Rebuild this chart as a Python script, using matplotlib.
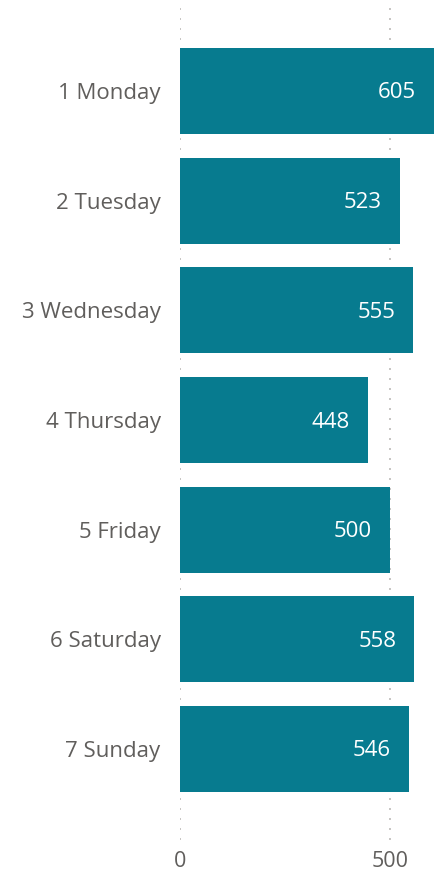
import matplotlib
matplotlib.use("Agg")
import matplotlib.pyplot as plt

categories = ["1 Monday", "2 Tuesday", "3 Wednesday", "4 Thursday", "5 Friday", "6 Saturday", "7 Sunday"]
values = [605, 523, 555, 448, 500, 558, 546]
xticks = [0, 500]
xticklabels = ["0", "500"]

plt.rcParams['font.family'] = ['Open Sans', 'DejaVu Sans']

W, H = 447, 871
fig = plt.figure(figsize=(W / 100, H / 100), dpi=100)
top_px, bot_px = 3, 840
ax = fig.add_axes([180 / W, (H - bot_px) / H, (434 - 180) / W, (bot_px - top_px) / H])

bar_color = "#077B8F"
text_color = "#605E5C"

n = len(categories)
y = list(range(n))
ax.barh(y, values, height=0.784, color=bar_color, zorder=2)
step = (749 - 91) / (n - 1)
ax.set_ylim((n - 1) + (bot_px - 749) / step, -(91 - top_px) / step)
ax.set_xlim(0, 605)

for yi, v in zip(y, values):
    ax.annotate(str(v), xy=(v, yi), xytext=(-18, -2), textcoords="offset pixels",
                ha="right", va="center", color="white", fontsize=16, zorder=3)

ax.set_yticks(y)
ax.set_yticklabels(categories, fontsize=16, color=text_color)
ax.set_xticks(xticks)
ax.set_xticklabels(xticklabels, fontsize=15.5, color=text_color)
ax.tick_params(axis="both", length=0)
ax.tick_params(axis="y", pad=14)
ax.tick_params(axis="x", pad=8)

ax.grid(axis="x", color="#C8C6C4", linestyle=(0, (1, 4)), linewidth=1.44, zorder=1)
ax.grid(axis="y", visible=False)
for s in ax.spines.values():
    s.set_visible(False)

fig.savefig("out.png", dpi=100)
